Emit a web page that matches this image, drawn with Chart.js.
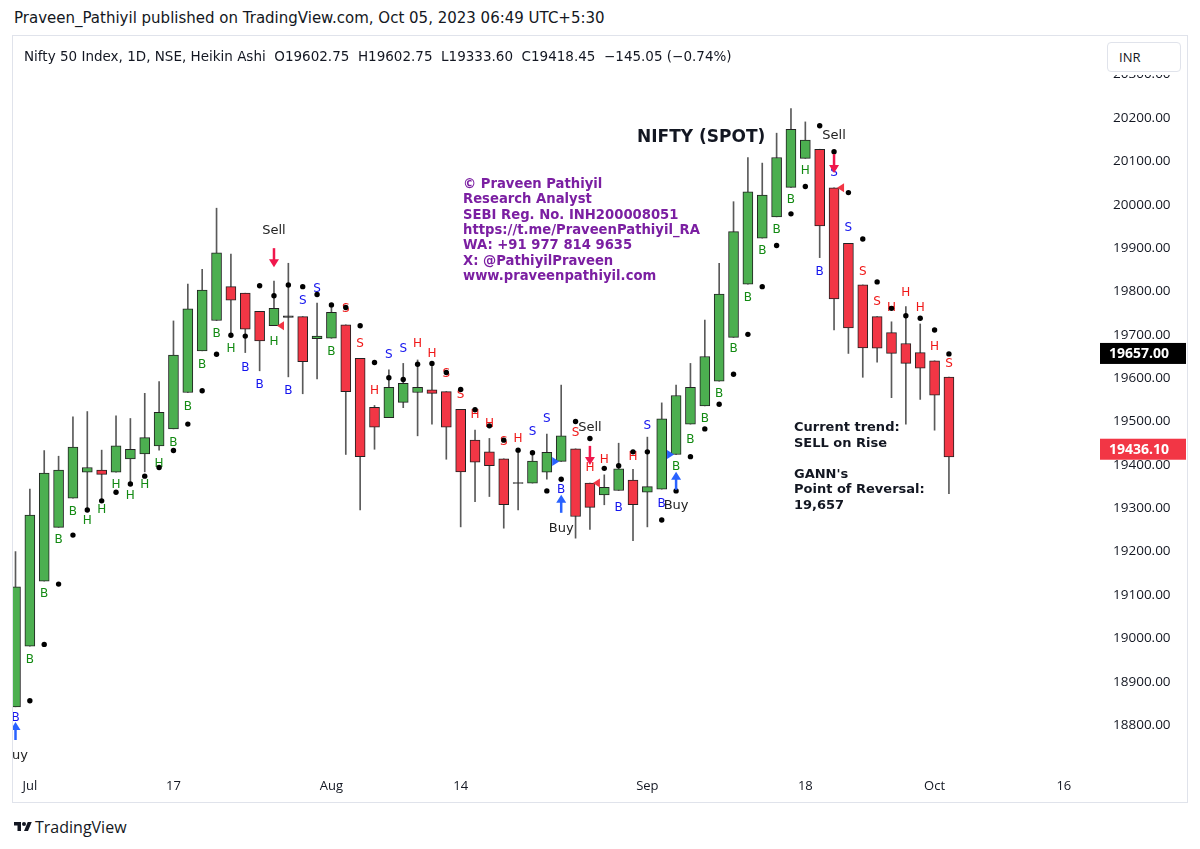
<!DOCTYPE html>
<html>
<head>
<meta charset="utf-8">
<script src="https://cdn.jsdelivr.net/npm/chart.js@4.4.0/dist/chart.umd.min.js"></script>
<style>
body{margin:0;background:#fff;width:1200px;height:849px;position:relative;overflow:hidden;font-family:"Open Sans",sans-serif;color:#131722}
#hdr{position:absolute;left:14px;top:8px;font-family:"DejaVu Sans",sans-serif;font-size:15px;line-height:20px;white-space:pre}
#pane{position:absolute;left:12px;top:35px;width:1176px;height:768px;border:1px solid #e0e3eb;box-sizing:border-box}
#wrap{position:absolute;left:0;top:35px;width:1188px;height:767px}
#legend{position:absolute;left:24px;top:46px;font-family:"DejaVu Sans",sans-serif;font-size:13.5px;line-height:20px;white-space:pre}
#cover{position:absolute;left:1100px;top:37px;width:86px;height:38px;background:#fff}
#inr{position:absolute;left:1107px;top:42px;width:74px;height:30px;box-sizing:border-box;border:1px solid #e0e3eb;border-radius:4px;background:#fff;font-size:13px;line-height:28px;padding-left:11px}
.note{position:absolute;font-family:"DejaVu Sans",sans-serif;font-weight:bold;white-space:pre}
#nifty{left:637px;top:125px;font-size:17px;line-height:22px}
#card{left:463px;top:176px;font-size:13.2px;line-height:15.35px;color:#7b1fa2}
#trend{left:794px;top:419px;font-size:13px;line-height:15.5px}
#foot{position:absolute;left:14px;top:817px;font-size:16px;line-height:20px;display:flex;align-items:center}
#foot svg{margin-right:3px}
</style>
</head>
<body>
<div id="hdr">Praveen_Pathiyil published on TradingView.com, Oct 05, 2023 06:49 UTC+5:30</div>
<div id="pane"></div>
<div id="wrap"><canvas id="c"></canvas></div>
<div id="legend">Nifty 50 Index, 1D, NSE, Heikin Ashi  O19602.75  H19602.75  L19333.60  C19418.45  −145.05 (−0.74%)</div>
<div id="cover"></div>
<div id="inr">INR</div>
<div class="note" id="nifty">NIFTY (SPOT)</div>
<div class="note" id="card">© Praveen Pathiyil
Research Analyst
SEBI Reg. No. INH200008051
https://t.me/PraveenPathiyil_RA
WA: +91 977 814 9635
X: @PathiyilPraveen
www.praveenpathiyil.com</div>
<div class="note" id="trend">Current trend:
SELL on Rise

GANN's
Point of Reversal:
19,657</div>
<div id="foot"><svg width="18" height="14" viewBox="0 0 36 28"><path d="M14 22H7V11H0V4h14v18zM28 22h-8l7.5-18h8L28 22z" fill="#131722"/><circle cx="20" cy="8" r="4" fill="#131722"/></svg>TradingView</div>
<script>
// Heikin Ashi candles, Jun 30 - Oct 4 2023 (one entry per trading day)
const open = [18842,18982,19132,19256,19323,19383,19388,19383,19414,19425,
  19444,19483,19567,19663,19733,19811,19796,19754,19721,19744,
  19742,19691,19692,19723,19646,19533,19509,19544,19567,19573,
  19569,19528,19457,19430,19414,19359,19358,19383,19408,19437,
  19358,19331,19341,19365,19337,19344,19424,19494,19536,19593,
  19694,19817,19923,19972,20040,20107,20128,20039,19911,19815,
  19742,19705,19680,19659,19640,19602.75];
const high = [19200,19344,19433,19420,19511,19523,19434,19513,19507,19565,
  19592,19732,19817,19851,19992,19886,19796,19754,19824,19865,
  19742,19773,19765,19723,19646,19537,19619,19634,19642,19638,
  19569,19528,19480,19461,19414,19438,19428,19471,19584,19437,
  19358,19377,19450,19390,19464,19543,19584,19634,19734,19865,
  20007,20109,20096,20165,20222,20191,20128,20039,19911,19815,
  19742,19730,19765,19725,19640,19602.75];
const low = [18842,18982,19132,19256,19323,19296,19319,19383,19358,19384,
  19434,19483,19567,19663,19733,19700,19659,19617,19721,19603,
  19564,19598,19692,19424,19296,19436,19509,19532,19467,19494,
  19413,19257,19315,19327,19254,19296,19358,19367,19408,19231,
  19251,19308,19341,19225,19257,19344,19424,19494,19536,19593,
  19694,19817,19923,19972,20040,20107,19878,19711,19657,19602,
  19637,19555,19494,19551,19480,19333.6];
const close = [19119,19284,19381,19388,19441,19394,19378,19444,19436,19463,
  19521,19653,19760,19803,19889,19780,19713,19686,19761,19740,
  19638,19697,19752,19569,19419,19487,19579,19588,19579,19565,
  19487,19384,19406,19398,19308,19357,19409,19429,19467,19281,
  19302,19348,19391,19308,19350,19506,19560,19579,19650,19794,
  19938,20030,20022,20109,20174,20149,19951,19783,19716,19670,
  19669,19657,19634,19623,19561,19418.45];

// black trailing dots
const stopDots = [null,18856,18986,19125,19238,19296,19317,19337,19356,19374,
  19394,19433,19494,19571,19655,19699,19697,19813,19790,19815,
  19811,19793,19769,19763,19721,19636,19601,19597,19632,19634,
  19613,19574,19527,19490,19457,19434,19428,19340,19367,19500,
  19461,19392,19398,19430,19430,19273,19340,19419,19483,19540,
  19609,19701,19811,19906,19979,20042,20182,20122,20028,19921,
  19822,19761,19744,19738,19711,19656];

// B / H / S letters per candle
const sigText = ['B','B','B','B','B','H','H','H','H','H',
  'H','B','B','B','B','H','B','B','H','B',
  'S','S','B','S','S','H','S','S','H','H',
  'S','S','H','H','S','H','S','S','B','S',
  'H','H','B','H','S','B','B','B','B','B',
  'B','B','B','B','B','H','B','S','S','S',
  'S','H','H','H','H','S'];
const sigColor = ['b','g','g','g','g','g','g','g','g','g',
  'g','g','g','g','g','g','b','b','g','b',
  'b','b','g','r','r','r','b','b','r','r',
  'r','r','r','r','r','r','b','b','b','r',
  'r','r','b','r','b','b','g','g','g','g',
  'g','g','g','g','g','g','b','b','b','r',
  'r','r','r','r','r','r'];
const sigPrice = [18816,18950,19102,19227,19292,19271,19296,19354,19329,19354,
  19402,19450,19534,19630,19702,19667,19624,19584,19683,19570,
  19779,19806,19661,19759,19678,19571,19653,19667,19679,19657,
  19611,19561,19515,19494,19453,19460,19477,19505,19342,19473,
  19394,19411,19301,19419,19490,19310,19395,19457,19505,19563,
  19667,19786,19893,19942,20011,20078,19846,20074,19946,19846,
  19776,19761,19797,19761,19673,19634];

const sellIdx = [18, 40, 57];
const sellTip = [19856, 19400, 20073];
const buyIdx = [0, 38, 46];
const buyTip = [18807, 19331, 19384];

const tickIdx = [1, 11, 22, 31, 44, 55, 64, 73];
const tickLabels = ['Jul', '17', 'Aug', '14', 'Sep', '18', 'Oct', '16'];
const priceTicks = [18800,18900,19000,19100,19200,19300,19400,19500,19600,19700,19800,19900,20000,20100,20200,20300];
const priceMarks = [19657, 19436.10];

const letterColors = {g: '#138a13', b: '#1414ee', r: '#f01818'};
const RED = '#f23645', GREEN = '#4caf50', ARROW_RED = '#f0174c', BLUE = '#2962ff';

function clipArea(ctx, a) {
  ctx.beginPath();
  ctx.rect(a.left, a.top, a.right - a.left, a.bottom - a.top);
  ctx.clip();
}

const letters = {
  id: 'letters',
  beforeDatasetsDraw(chart) {
    const {ctx, chartArea, scales: {x, y}} = chart;
    ctx.save();
    clipArea(ctx, chartArea);
    ctx.font = '12px "DejaVu Sans"';
    ctx.textAlign = 'center';
    ctx.textBaseline = 'middle';
    sigText.forEach((t, i) => {
      ctx.fillStyle = letterColors[sigColor[i]];
      ctx.fillText(t, x.getPixelForValue(i), y.getPixelForValue(sigPrice[i]));
    });
    ctx.restore();
  }
};

const signals = {
  id: 'signals',
  afterDatasetsDraw(chart) {
    const {ctx, chartArea, scales: {x, y}} = chart;
    ctx.save();
    clipArea(ctx, chartArea);
    ctx.textAlign = 'center';
    ctx.textBaseline = 'middle';
    ctx.font = '13px "DejaVu Sans"';

    sellIdx.forEach((idx, k) => {
      const px = x.getPixelForValue(idx), tip = y.getPixelForValue(sellTip[k]);
      ctx.strokeStyle = ARROW_RED; ctx.fillStyle = ARROW_RED; ctx.lineWidth = 2.5;
      ctx.beginPath(); ctx.moveTo(px, tip - 19); ctx.lineTo(px, tip - 6); ctx.stroke();
      ctx.beginPath(); ctx.moveTo(px - 5, tip - 8); ctx.lineTo(px + 5, tip - 8); ctx.lineTo(px, tip); ctx.closePath(); ctx.fill();
      ctx.fillStyle = '#222';
      ctx.fillText('Sell', px, tip - 37);
      const oy = y.getPixelForValue(open[idx]);
      ctx.fillStyle = RED;
      ctx.beginPath(); ctx.moveTo(px + 3, oy); ctx.lineTo(px + 10, oy - 4.5); ctx.lineTo(px + 10, oy + 4.5); ctx.closePath(); ctx.fill();
    });

    buyIdx.forEach((idx, k) => {
      const px = x.getPixelForValue(idx), tip = y.getPixelForValue(buyTip[k]);
      ctx.strokeStyle = BLUE; ctx.fillStyle = BLUE; ctx.lineWidth = 2.5;
      ctx.beginPath(); ctx.moveTo(px, tip + 18); ctx.lineTo(px, tip + 6); ctx.stroke();
      ctx.beginPath(); ctx.moveTo(px - 5, tip + 8); ctx.lineTo(px + 5, tip + 8); ctx.lineTo(px, tip); ctx.closePath(); ctx.fill();
      ctx.fillStyle = '#222';
      ctx.fillText('Buy', px, tip + 34);
      if (idx > 0) {
        const oy = y.getPixelForValue(open[idx]);
        ctx.fillStyle = BLUE;
        ctx.beginPath(); ctx.moveTo(px - 2, oy); ctx.lineTo(px - 9, oy - 4.5); ctx.lineTo(px - 9, oy + 4.5); ctx.closePath(); ctx.fill();
      }
    });
    ctx.restore();
  }
};

const priceBoxes = {
  id: 'priceBoxes',
  afterDraw(chart) {
    const {ctx, chartArea, scales: {y}} = chart;
    const fills = ['#000000', RED];
    ctx.save();
    ctx.font = 'bold 14px "Open Sans"';
    ctx.textAlign = 'left';
    ctx.textBaseline = 'middle';
    priceMarks.forEach((v, k) => {
      const py = y.getPixelForValue(v);
      ctx.fillStyle = fills[k];
      ctx.fillRect(chartArea.right + 2, py - 10.5, 86, 21);
      ctx.fillStyle = '#fff';
      ctx.fillText(v.toFixed(2), chartArea.right + 11, py + 0.5);
    });
    ctx.restore();
  }
};

const dots = stopDots.map((v, i) => ({x: i, y: v})).filter(p => p.y !== null);

// near-doji candles show as a dark dash
const bodyColor = open.map((o, i) => Math.abs(close[i] - o) < 5 ? '#333' : (close[i] >= o ? GREEN : RED));

new Chart(document.getElementById('c'), {
  type: 'bar',
  data: {
    datasets: [
      {
        type: 'line', label: 'stop', data: dots, showLine: false,
        pointRadius: 2.7, pointBackgroundColor: '#000', pointBorderWidth: 0, order: 0
      },
      {
        label: 'body',
        data: open.map((o, i) => ({x: i, y: [o, close[i]]})),
        backgroundColor: bodyColor,
        borderColor: '#222', borderWidth: 1, borderSkipped: false,
        barThickness: 10, grouped: false, order: 1
      },
      {
        label: 'wick',
        data: low.map((l, i) => ({x: i, y: [l, high[i]]})),
        backgroundColor: '#5a5a5a', barThickness: 1, grouped: false, order: 2
      }
    ]
  },
  options: {
    responsive: true,
    maintainAspectRatio: false,
    animation: false,
    layout: {padding: {left: 13, top: 37, right: 0, bottom: 0}},
    plugins: {legend: {display: false}, tooltip: {enabled: false}},
    scales: {
      x: {
        type: 'linear', min: -0.174, max: 75.38, offset: false,
        grid: {display: false, drawTicks: false}, border: {display: false},
        afterBuildTicks: a => { a.ticks = tickIdx.map(v => ({value: v})); },
        afterFit: a => { a.height = 32; },
        ticks: {
          autoSkip: false, maxRotation: 0, padding: 8, color: '#131722',
          font: {family: 'Open Sans', size: 13},
          callback: v => tickLabels[tickIdx.indexOf(v)]
        }
      },
      y: {
        position: 'right', min: 18696.3, max: 20306.1,
        grid: {display: false, drawTicks: false}, border: {display: false},
        afterBuildTicks: a => { a.ticks = priceTicks.map(v => ({value: v})); },
        afterFit: a => { a.width = 90; },
        ticks: {
          padding: 15, color: '#131722',
          font: {family: 'Open Sans', size: 13.5},
          callback: v => v.toFixed(2)
        }
      }
    }
  },
  plugins: [letters, signals, priceBoxes]
});
</script>
</body>
</html>
